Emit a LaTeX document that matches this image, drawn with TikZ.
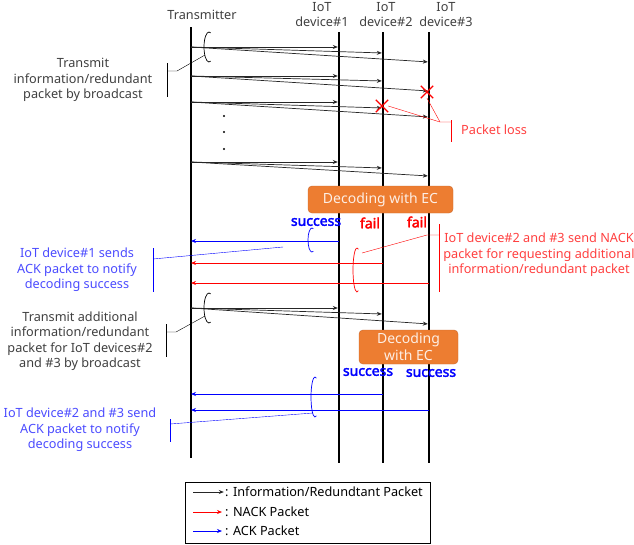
\documentclass[tikz,border=0pt]{standalone}
\usepackage{fontspec}
\setmainfont{Noto Sans}[AutoFakeBold=2.5]
\usetikzlibrary{arrows.meta,shapes.misc}
\definecolor{ecorange}{HTML}{ED7D31}
\definecolor{ecborder}{HTML}{C8672C}
\definecolor{txtgray}{HTML}{404040}
\definecolor{notered}{HTML}{FF4040}
\definecolor{noteblue}{HTML}{4B4BFF}
\definecolor{ectext}{HTML}{FDEEE4}

\begin{document}
\begin{tikzpicture}
  [
    x=1pt, y=-1pt, >={Stealth[length=5pt,width=4pt]},
    txt/.style =
      {align=center, inner sep=0pt, font=\fontsize{12.7}{15.5}\selectfont},
    block/.style =
      {draw=ecborder, fill=ecorange, rounded corners=4pt, text=ectext,
       align=center, font=\fontsize{14}{17}\selectfont},
    res/.style =
      {inner sep=0pt, font=\fontsize{14}{16}\selectfont\bfseries},
    msg/.style  = {->, black!85, line width=0.7pt, shorten >=1.2pt},
    nack/.style = {->, red, line width=0.7pt},
    ack/.style  = {->, blue, line width=0.7pt},
    life/.style = {line width=2.4pt},
    loop/.style = {line width=0.7pt},
    lost/.style =
      {cross out, draw=red, line width=1.4pt, minimum size=11pt, inner sep=0pt}
  ]
  \useasboundingbox (0,0) rectangle (634,544);

  % lifelines
  \coordinate (tx) at (191,27);
  \coordinate (d1) at (339,32);
  \coordinate (d2) at (383,32);
  \coordinate (d3) at (429,32);
  \node [txt, text=txtgray] at (202,15)   (tl) {Transmitter};
  \node [txt, text=txtgray] at (322,14.5) (l1) {IoT\\device\#1};
  \node [txt, text=txtgray] at (386,14.5) (l2) {IoT\\device\#2};
  \node [txt, text=txtgray] at (446,14.5) (l3) {IoT\\device\#3};
  \draw[line width=1.3pt] (tx) -- (tx |- 0,458);
  \foreach \d in {d1,d2,d3}
    \draw[life] (\d) -- (\d |- 0,463);

  % broadcast packets
  \foreach \ya/\yb/\yc in {47/53/62, 76/81/91, 102/108/117, 162/168/176, 308/314/324}{
    \draw[msg] (tx |- 0,\ya) -- (d1 |- 0,\ya);
    \draw[msg] (tx |- 0,\ya) -- (d2 |- 0,\yb);
    \draw[msg] (tx |- 0,\ya) -- (d3 |- 0,\yc);
  }
  \foreach \y in {116,132,149}
    \fill (224,\y) circle (1.1);

  \node [lost] at (427,92)  (x1) {};
  \node [lost] at (382,106) (x2) {};

  % decoding
  \node [block, minimum width=145pt, minimum height=27pt] at (380.5,199.5) (ec1) {Decoding with EC};
  \node [block, minimum width=99pt, minimum height=34pt, inner sep=1pt] at (408.5,347) (ec2) {Decoding\\with EC};
  \node [res, text=blue] at (316,222) (s1) {success};
  \node [res, text=red]  at (370,223) (f2) {fail};
  \node [res, text=red]  at (417,222) (f3) {fail};
  \node [res, text=blue] at (368,372) (s2) {success};
  \node [res, text=blue] at (431,373) (s3) {success};

  \draw[ack]  (d1 |- 0,241) -- (tx |- 0,241);
  \draw[nack] (d2 |- 0,263) -- (tx |- 0,263);
  \draw[nack] (d3 |- 0,283) -- (tx |- 0,283);
  \draw[ack]  (d2 |- 0,394) -- (tx |- 0,394);
  \draw[ack]  (d3 |- 0,410) -- (tx |- 0,410);

  % loops round the packets
  \draw[loop] (209,47) ++(70:5 and 15) arc[start angle=70, end angle=290, x radius=5, y radius=15];
  \draw[loop] (209,308) ++(70:5 and 15) arc[start angle=70, end angle=290, x radius=5, y radius=15];
  \draw[loop, blue] (312,240) ++(70:4 and 12) arc[start angle=70, end angle=290, x radius=4, y radius=12];
  \draw[loop, red] (357,270) ++(70:4 and 22) arc[start angle=70, end angle=290, x radius=4, y radius=22];
  \draw[loop, blue] (315,397) ++(70:4 and 20) arc[start angle=70, end angle=290, x radius=4, y radius=20];

  % callouts
  \node [txt, text=txtgray] at (83,80) (n1) {Transmit\\information/redundant\\packet by broadcast};
  \draw (167,63) -- (167,97);
  \draw (167,71) -- (177,71) -- (205,55);

  \node [txt, text=txtgray] at (80,341) (n2) {Transmit additional\\information/redundant\\packet for IoT devices\#2\\and \#3 by broadcast};
  \draw (166,324) -- (166,357);
  \draw (166,332) -- (176,332) -- (205,316);

  \node [txt, text=notered, anchor=west] at (461,130) (n3) {Packet loss};
  \draw[red] (451,120) -- (451,142);
  \draw[red] (451,122) -- (440,122) -- (x2.east);
  \draw[red] (440,122) -- (x1.south);

  \node [txt, text=notered] at (539,255) (n4) {IoT device\#2 and \#3 send NACK\\packet for requesting additional\\information/redundant packet};
  \draw[red] (439,224) -- (439,292);
  \draw[red] (439,235) -- (427,235) -- (362,253);

  \node [txt, text=noteblue] at (77,270) (n5) {IoT device\#1 sends\\ACK packet to notify\\decoding success};
  \draw[blue] (153,248) -- (153,292);
  \draw[blue] (153,259) -- (283,247);

  \node [txt, text=noteblue] at (80,430) (n6) {IoT device\#2 and \#3 send\\ACK packet to notify\\decoding success};
  \draw[blue] (170,419) -- (170,442);
  \draw[blue] (170,424) -- (313,413);

  % legend
  \draw (185,482) rectangle (430,543.5);
  \node [txt, anchor=west] at (225,492) (g1) {: Information/Redundtant Packet};
  \node [txt, anchor=west] at (225,512) (g2) {: NACK Packet};
  \node [txt, anchor=west] at (225,531) (g3) {: ACK Packet};
  \draw[msg]  (193,492) -- (g1.west);
  \draw[nack, shorten >=3pt] (193,512) -- (g2.west);
  \draw[ack,  shorten >=3pt] (193,531) -- (g3.west);

\end{tikzpicture}
\end{document}
